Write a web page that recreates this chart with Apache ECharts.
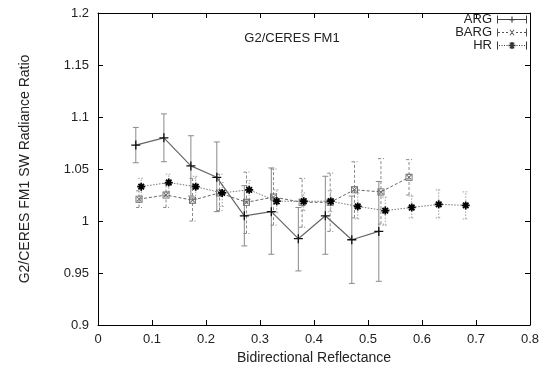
<!DOCTYPE html>
<html><head><meta charset="utf-8">
<script src="https://cdn.jsdelivr.net/npm/echarts@6/dist/echarts.min.js"></script>
<style>html,body{margin:0;padding:0;background:#fff}#c{width:550px;height:377px}</style>
</head><body><div id="c"></div>
<script>
// ---- data ----
const argX  = [0.070, 0.122, 0.172, 0.220, 0.271, 0.321, 0.371, 0.421, 0.470, 0.520];
const argY  = [1.073, 1.080, 1.053, 1.042, 1.005, 1.009, 0.983, 1.005, 0.982, 0.990];
const argLo = [1.056, 1.057, 1.024, 1.009, 0.976, 0.968, 0.952, 0.968, 0.940, 0.942];
const argHi = [1.090, 1.103, 1.082, 1.076, 1.034, 1.051, 1.013, 1.043, 1.024, 1.038];

const bargX  = [0.076, 0.126, 0.175, 0.225, 0.275, 0.325, 0.378, 0.430, 0.475, 0.524, 0.576];
const bargY  = [1.021, 1.025, 1.020, 1.027, 1.018, 1.023, 1.018, 1.018, 1.030, 1.028, 1.042];
const bargLo = [1.013, 1.013, 1.000, 1.010, 0.988, 0.996, 0.994, 0.990, 1.003, 0.997, 1.025];
const bargHi = [1.029, 1.036, 1.041, 1.045, 1.047, 1.050, 1.041, 1.046, 1.057, 1.060, 1.059];

const hrX  = [0.080, 0.131, 0.181, 0.230, 0.280, 0.331, 0.381, 0.431, 0.481, 0.532, 0.581, 0.631, 0.681];
const hrY  = [1.033, 1.037, 1.033, 1.027, 1.030, 1.019, 1.019, 1.019, 1.014, 1.010, 1.013, 1.016, 1.015];
const hrLo = [1.024, 1.028, 1.021, 1.014, 1.021, 1.008, 1.010, 1.009, 1.002, 0.996, 1.003, 1.003, 1.002];
const hrHi = [1.041, 1.045, 1.043, 1.037, 1.039, 1.030, 1.027, 1.029, 1.027, 1.023, 1.024, 1.030, 1.028];

const seriesNames = ['ARG', 'BARG', 'HR'];
const chartTitle = 'G2/CERES FM1';
const xName = 'Bidirectional Reflectance';
const yName = 'G2/CERES FM1 SW Radiance Ratio';

// ---- build ----
const FONT = '"Liberation Sans", Arial, Helvetica, sans-serif';
const pts = (xs, ys) => xs.map((x, i) => [x, ys[i]]);
const errPts = (xs, lo, hi) => xs.map((x, i) => [x, lo[i], hi[i]]);

function errSeries(name, data, color, dash) {
  return {
    type: 'custom', name: name, data: data, z: 2, silent: true,
    encode: { x: 0, y: [1, 2] },
    renderItem: function (params, api) {
      const x = api.value(0);
      const p1 = api.coord([x, api.value(1)]);
      const p2 = api.coord([x, api.value(2)]);
      const cw = 3;
      const st = { stroke: color, lineWidth: 1, lineDash: dash };
      return { type: 'group', children: [
        { type: 'line', shape: { x1: p1[0], y1: p1[1], x2: p2[0], y2: p2[1] }, style: st },
        { type: 'line', shape: { x1: p1[0] - cw, y1: p1[1], x2: p1[0] + cw, y2: p1[1] }, style: st },
        { type: 'line', shape: { x1: p2[0] - cw, y1: p2[1], x2: p2[0] + cw, y2: p2[1] }, style: st }
      ]};
    }
  };
}

const plusSym = 'path://M3.5,0h1.2v8.2H3.5z M0,3.5h8.2v1.2H0z';
const boxX = 'path://M0,0h8v8H0z M1,1v6h6V1z M1.2,1.9L1.9,1.2L6.8,6.1L6.1,6.8z M6.1,1.2L6.8,1.9L1.9,6.8L1.2,6.1z';
const starSym = 'path://M3.2,0h1.8v8.2H3.2z M0,3.2h8.2v1.8H0z M0.6,1.9L1.9,0.6L7.6,6.3L6.3,7.6z M6.3,0.6L7.6,1.9L1.9,7.6L0.6,6.3z';

const iconARG = 'path://M0,0h1v8H0z M29,0h1v8h-1z M0,3.6h30v0.9H0z M14.4,1h1.2v6h-1.2z M12,3.4h6v1.3h-6z';
const iconBARG = 'path://M0,0h1v8H0z M29,0h1v8h-1z M1,3.6h2v0.9H1z M5,3.6h2v0.9H5z M9,3.6h2v0.9H9z M19,3.6h2v0.9h-2z M23,3.6h2v0.9h-2z M27,3.6h2v0.9h-2z M12.5,1.5L13.3,1L17.5,6.5L16.7,7z M16.7,1L17.5,1.5L13.3,7L12.5,6.5z';
const iconHR = 'path://M0,0h1v8H0z M29,0h1v8h-1z M2,3.6h1v0.9H2z M4.5,3.6h1v0.9H4.5z M7,3.6h1v0.9H7z M9.5,3.6h1v0.9H9.5z M19.5,3.6h1v0.9h-1z M22,3.6h1v0.9h-1z M24.5,3.6h1v0.9h-1z M27,3.6h1v0.9h-1z M14.2,0.5h1.6v7h-1.6z M11.5,3.2h7v1.6h-7z M12.3,1.5L13.3,0.8L17.7,6.5L16.7,7.2z M16.7,0.8L17.7,1.5L13.3,7.2L12.3,6.5z';

const axisCommon = {
  type: 'value', min: 0, max: 0.8, interval: 0.1,
  axisLine: { show: true, onZero: false, lineStyle: { color: '#000', width: 1 } },
  axisTick: { show: true, inside: true, length: 5, lineStyle: { color: '#000' } },
  splitLine: { show: false }
};

const option = {
  animation: false,
  backgroundColor: '#fff',
  grid: { left: 98, right: 20, top: 13, bottom: 52 },
  title: {
    text: chartTitle, left: 292, top: 30, textAlign: 'center',
    textStyle: { fontFamily: FONT, fontSize: 13, fontWeight: 'normal', color: '#222', lineHeight: 16 },
    padding: 0
  },
  legend: {
    orient: 'vertical', right: 23, top: 13, align: 'right',
    itemWidth: 30, itemHeight: 8, itemGap: 0, padding: 0,
    textStyle: { fontFamily: FONT, fontSize: 13, color: '#222', lineHeight: 13, height: 13 },
    data: [
      { name: seriesNames[0], icon: iconARG, itemStyle: { color: '#444' } },
      { name: seriesNames[1], icon: iconBARG, itemStyle: { color: '#555' } },
      { name: seriesNames[2], icon: iconHR, itemStyle: { color: '#333' } }
    ]
  },
  xAxis: [
    Object.assign({}, axisCommon, {
      position: 'bottom', name: xName, nameLocation: 'middle', nameGap: 25,
      nameTextStyle: { fontFamily: FONT, fontSize: 14, color: '#222' },
      axisLabel: { fontFamily: FONT, fontSize: 13, color: '#222', margin: 8 }
    }),
    Object.assign({}, axisCommon, { position: 'top', axisLabel: { show: false } })
  ],
  yAxis: [
    Object.assign({}, axisCommon, {
      min: 0.9, max: 1.2, interval: 0.05, position: 'left',
      name: yName, nameLocation: 'middle', nameGap: 66,
      nameTextStyle: { fontFamily: FONT, fontSize: 14, color: '#222' },
      axisLabel: { fontFamily: FONT, fontSize: 13, color: '#222', margin: 9 }
    }),
    Object.assign({}, axisCommon, {
      min: 0.9, max: 1.2, interval: 0.05, position: 'right', axisLabel: { show: false }
    })
  ],
  series: [
    errSeries(seriesNames[0], errPts(argX, argLo, argHi), '#8a8a8a', null),
    errSeries(seriesNames[1], errPts(bargX, bargLo, bargHi), '#8a8a8a', [3, 2]),
    errSeries(seriesNames[2], errPts(hrX, hrLo, hrHi), '#a0a0a0', [1.5, 1.5]),
    {
      type: 'line', name: seriesNames[0], data: pts(argX, argY), z: 3,
      symbol: plusSym, symbolSize: 9, showAllSymbol: true,
      itemStyle: { color: '#111' },
      lineStyle: { color: '#666', width: 1.2, type: 'solid' }
    },
    {
      type: 'line', name: seriesNames[1], data: pts(bargX, bargY), z: 3,
      symbol: boxX, symbolSize: 7, showAllSymbol: true,
      itemStyle: { color: '#666' },
      lineStyle: { color: '#666', width: 1, type: [3, 2] }
    },
    {
      type: 'line', name: seriesNames[2], data: pts(hrX, hrY), z: 4,
      symbol: starSym, symbolSize: 8, showAllSymbol: true,
      itemStyle: { color: '#000' },
      lineStyle: { color: '#777', width: 1, type: [1.5, 1.5] }
    }
  ]
};

const chart = echarts.init(document.getElementById('c'), null, { renderer: 'canvas' });
chart.setOption(option);
</script>
</body></html>
